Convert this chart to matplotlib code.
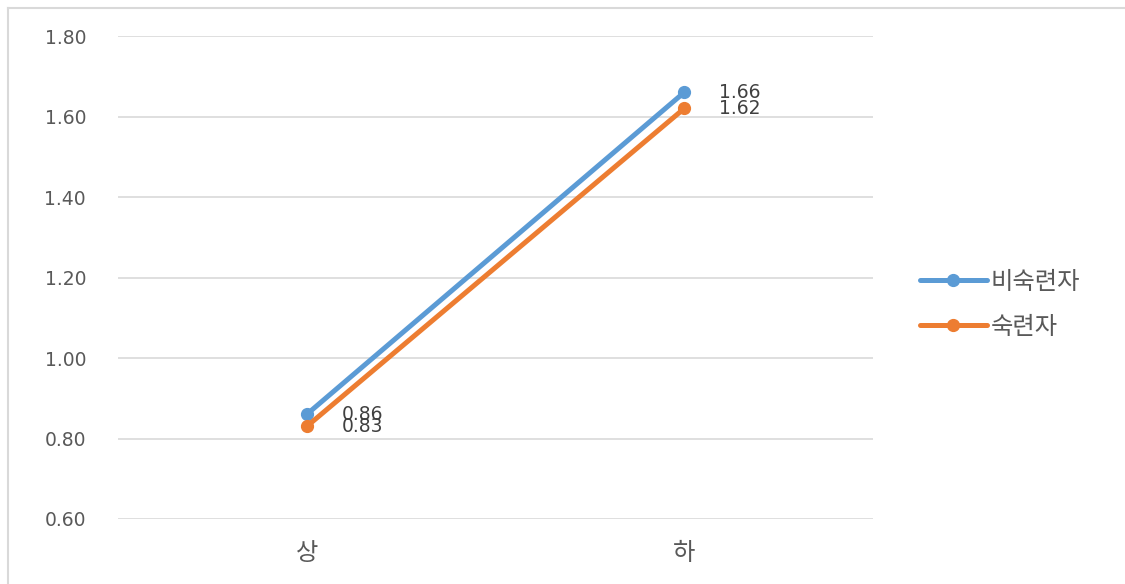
import matplotlib.pyplot as plt
from matplotlib.lines import Line2D

plt.rcParams['font.family'] = ['Noto Sans CJK KR', 'DejaVu Sans']

# datos
categorias = ['상', '하']
series = ['비숙련자', '숙련자']
valores_novato = [0.86, 1.66]
valores_experto = [0.83, 1.62]
colores = ['#5B9BD5', '#ED7D31']
yticks = [0.60, 0.80, 1.00, 1.20, 1.40, 1.60, 1.80]

fig = plt.figure(figsize=(11.25, 5.84), dpi=100)
ax = fig.add_axes([118 / 1125, 65 / 584, 755 / 1125, 483 / 584])

x = list(range(len(categorias)))
for nombre, vals, color in zip(series, [valores_novato, valores_experto], colores):
    ax.plot(x, vals, color=color, lw=3.6, marker='o', ms=8.5,
            solid_capstyle='round', label=nombre, zorder=3)
    for xi, v in zip(x, vals):
        ax.annotate(f"{v:.2f}", (xi, v), xytext=(25, 0), textcoords='offset points',
                    va='center', ha='left', fontsize=13.5, color='#404040',
                    family='DejaVu Sans')

ax.set_xlim(-0.5, 1.5)
ax.set_ylim(0.60, 1.80)
ax.set_yticks(yticks)
ax.set_yticklabels([f"{t:.2f}" for t in yticks], family='DejaVu Sans', fontsize=13.5)
ax.set_xticks(x)
ax.set_xticklabels(categorias, fontsize=17.5)
ax.grid(axis='y', color='#D9D9D9', lw=1.2)
ax.set_axisbelow(True)
for s in ax.spines.values():
    s.set_visible(False)
ax.tick_params(axis='both', length=0, colors='#595959')
ax.tick_params(axis='y', pad=23)
ax.tick_params(axis='x', pad=15)

leg = ax.legend(loc='center left', bbox_to_anchor=(1.033, 0.445), frameon=False,
                fontsize=17.5, handlelength=2.75, labelspacing=0.78, handletextpad=0.15)
for t in leg.get_texts():
    t.set_color('#595959')

# borde del area del grafico
fig.add_artist(Line2D([8 / 1125, 8 / 1125], [0, 1 - 8 / 584], transform=fig.transFigure,
                      color='#D9D9D9', lw=1.5))
fig.add_artist(Line2D([8 / 1125, 1], [1 - 8 / 584, 1 - 8 / 584], transform=fig.transFigure,
                      color='#D9D9D9', lw=1.5))

fig.savefig('out.png', dpi=100)
